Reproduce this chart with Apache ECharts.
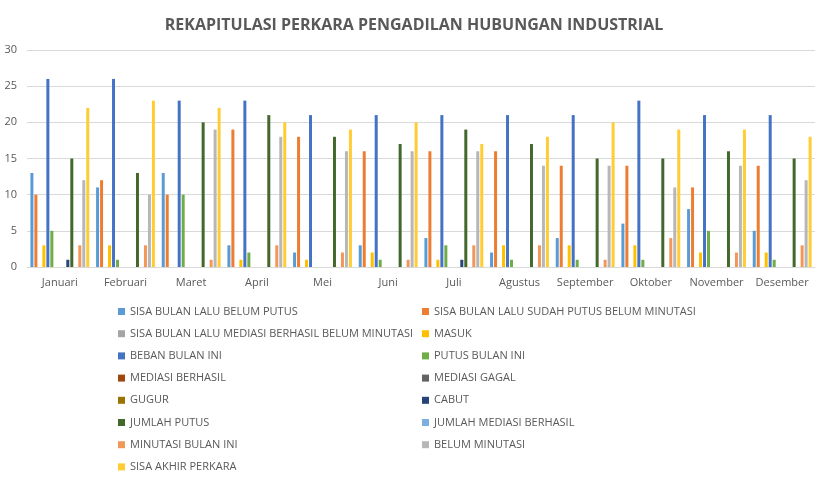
<!DOCTYPE html><html><head><meta charset="utf-8">
<script src="https://cdn.jsdelivr.net/npm/echarts@6/dist/echarts.min.js"></script>
<style>body{margin:0}#c{width:828px;height:485px}</style></head><body><div id="c"></div>
<script>
const months=["Januari","Februari","Maret","April","Mei","Juni","Juli","Agustus","September","Oktober","November","Desember"];
const names=["SISA BULAN LALU BELUM PUTUS","SISA BULAN LALU SUDAH PUTUS BELUM MINUTASI","SISA BULAN LALU MEDIASI BERHASIL BELUM MINUTASI","MASUK","BEBAN BULAN INI","PUTUS BULAN INI","MEDIASI BERHASIL","MEDIASI GAGAL","GUGUR","CABUT","JUMLAH PUTUS","JUMLAH MEDIASI BERHASIL","MINUTASI BULAN INI","BELUM MINUTASI","SISA AKHIR PERKARA"];
const colors=["#5b9bd5","#ed7d31","#a5a5a5","#ffc000","#4472c4","#70ad47","#9e480e","#636363","#997300","#264478","#43682b","#7cafdd","#f1975a","#b7b7b7","#ffcd33"];
const sisaBelumPutus=[13,11,13,3,2,3,4,2,4,6,8,5];
const sisaSudahPutus=[10,12,10,19,18,16,16,16,14,14,11,14];
const sisaMediasi=[0,0,0,0,0,0,0,0,0,0,0,0];
const masuk=[3,3,0,1,1,2,1,3,3,3,2,2];
const beban=[26,26,23,23,21,21,21,21,21,23,21,21];
const putus=[5,1,10,2,0,1,3,1,1,1,5,1];
const mediasiBerhasil=[0,0,0,0,0,0,0,0,0,0,0,0];
const mediasiGagal=[0,0,0,0,0,0,0,0,0,0,0,0];
const gugur=[0,0,0,0,0,0,0,0,0,0,0,0];
const cabut=[1,0,0,0,0,0,1,0,0,0,0,0];
const jumlahPutus=[15,13,20,21,18,17,19,17,15,15,16,15];
const jumlahMediasi=[0,0,0,0,0,0,0,0,0,0,0,0];
const minutasi=[3,3,1,3,2,1,3,3,1,4,2,3];
const belumMinutasi=[12,10,19,18,16,16,16,14,14,11,14,12];
const sisaAkhir=[22,23,22,20,19,20,17,18,20,19,19,18];
const data=[sisaBelumPutus,sisaSudahPutus,sisaMediasi,masuk,beban,putus,mediasiBerhasil,mediasiGagal,gugur,cabut,jumlahPutus,jumlahMediasi,minutasi,belumMinutasi,sisaAkhir];
const lg={orient:'vertical',height:300,itemWidth:7,itemHeight:7,itemGap:11.2,icon:'rect',textStyle:{fontSize:11,color:'#595959',fontFamily:'Open Sans'}};
const chart=echarts.init(document.getElementById('c'));
chart.setOption({
 animation:false,color:colors,
 title:{text:'REKAPITULASI PERKARA PENGADILAN HUBUNGAN INDUSTRIAL',left:'center',top:12,textStyle:{fontSize:16,fontWeight:'bold',color:'#595959',fontFamily:'Open Sans'}},
 legend:[Object.assign({},lg,{left:113,top:301,data:names.filter((n,i)=>i%2==0)}),Object.assign({},lg,{left:417,top:301,data:names.filter((n,i)=>i%2==1)})],
 grid:{left:27,right:13,top:50,bottom:218},
 xAxis:{type:'category',data:months,axisTick:{show:false},axisLine:{lineStyle:{color:'#d9d9d9'}},axisLabel:{interval:0,color:'#595959',fontSize:11,fontFamily:'Open Sans',margin:10}},
 yAxis:{type:'value',min:0,max:30,interval:5,axisLabel:{color:'#595959',fontSize:11,fontFamily:'Open Sans',margin:10},splitLine:{lineStyle:{color:'#d9d9d9'}}},
 series:names.map((n,i)=>({name:n,type:'bar',data:data[i],barWidth:3,barGap:'33%',barCategoryGap:'8%'}))
});
</script></body></html>
